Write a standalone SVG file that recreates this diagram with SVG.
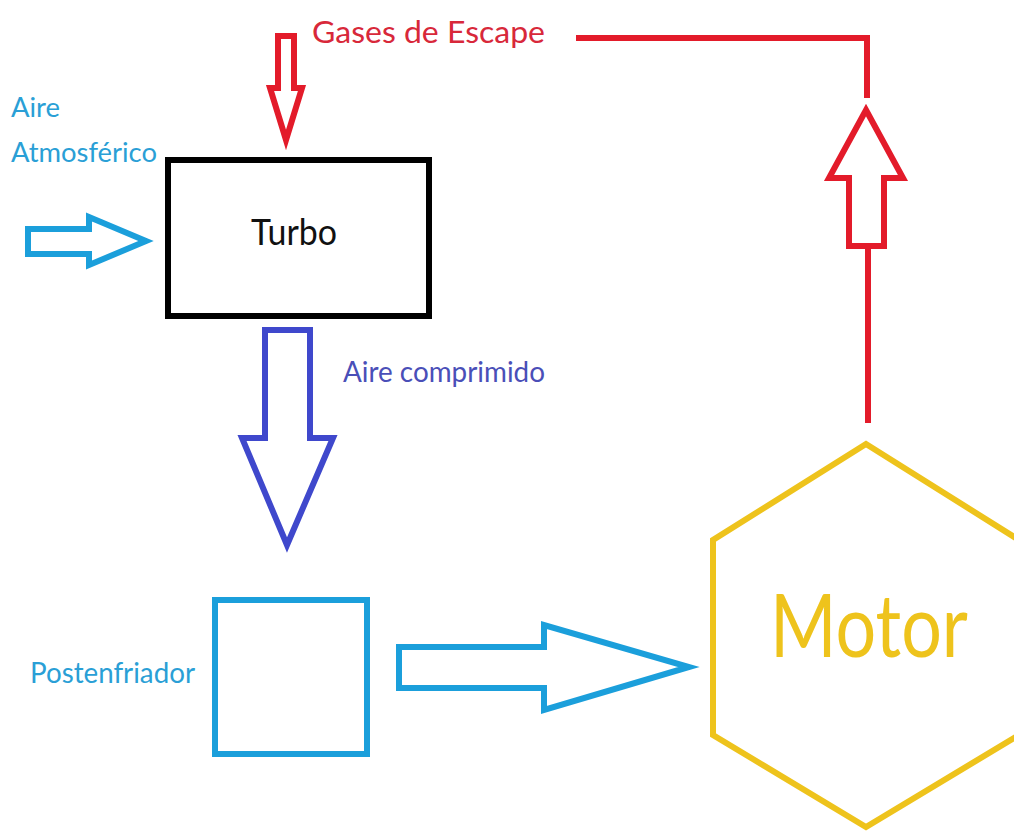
<svg xmlns="http://www.w3.org/2000/svg" width="1014" height="834" viewBox="0 0 1014 834">
<style>
.lbl{font-family:Lato,"Open Sans","Liberation Sans",sans-serif;}
.out{fill:none;stroke-linejoin:miter;}
</style>
<rect width="1014" height="834" fill="#ffffff"/>
<g id="connectors">
  <path class="out" d="M278,36 H294 V88 H302 L286,140 L270,88 H278 Z" stroke="#e31b2a" stroke-width="6"/>
  <polyline class="out" points="576,38 867,38 867,98" stroke="#e31b2a" stroke-width="6"/>
  <path class="out" d="M866,110 L903,178 H884 V246 H849 V178 H829 Z" stroke="#e31b2a" stroke-width="6"/>
  <line x1="868" y1="248" x2="868" y2="423" stroke="#e31b2a" stroke-width="6"/>
  <path class="out" d="M28,229 H89 V217 L146,241 L89,265 V254 H28 Z" stroke="#1b9fdb" stroke-width="6"/>
  <path class="out" d="M265,330 H310 V438 H333 L287,545 L242,438 H265 Z" stroke="#3f48cc" stroke-width="6"/>
  <path class="out" d="M399,647 H544 V625 L689,667 L544,710 V688 H399 Z" stroke="#1b9fdb" stroke-width="6"/>
  <text class="lbl" x="312" y="43" font-size="31" fill="#d8283a" textLength="233" lengthAdjust="spacingAndGlyphs">Gases de Escape</text>
  <text class="lbl" x="343" y="382" font-size="28" fill="#4a4fb8" textLength="202" lengthAdjust="spacingAndGlyphs">Aire comprimido</text>
</g>
<g id="aire-atmosferico">
  <text class="lbl" x="11" y="117" font-size="27" fill="#2a9fd6" textLength="49" lengthAdjust="spacingAndGlyphs">Aire</text>
  <text class="lbl" x="11" y="162" font-size="27" fill="#2a9fd6" textLength="146" lengthAdjust="spacingAndGlyphs">Atmosférico</text>
</g>
<g id="turbo">
  <rect x="168" y="160" width="261" height="156" fill="none" stroke="#000000" stroke-width="6"/>
  <text class="lbl" x="251" y="245" font-size="37" fill="#111111" textLength="86" lengthAdjust="spacingAndGlyphs">Turbo</text>
</g>
<g id="postenfriador">
  <rect x="215" y="600" width="152" height="154" fill="none" stroke="#1b9fdb" stroke-width="6"/>
  <text class="lbl" x="30" y="683" font-size="29" fill="#2a9fd6" textLength="165" lengthAdjust="spacingAndGlyphs">Postenfriador</text>
</g>
<g id="motor">
  <polygon points="866,444 1019,540 1019,735 866,827 713,735 713,540" fill="none" stroke="#eec31c" stroke-width="6"/>
  <text class="lbl" x="770" y="657" font-size="88" fill="#eec31c" textLength="198" lengthAdjust="spacingAndGlyphs">Motor</text>
</g>
</svg>
